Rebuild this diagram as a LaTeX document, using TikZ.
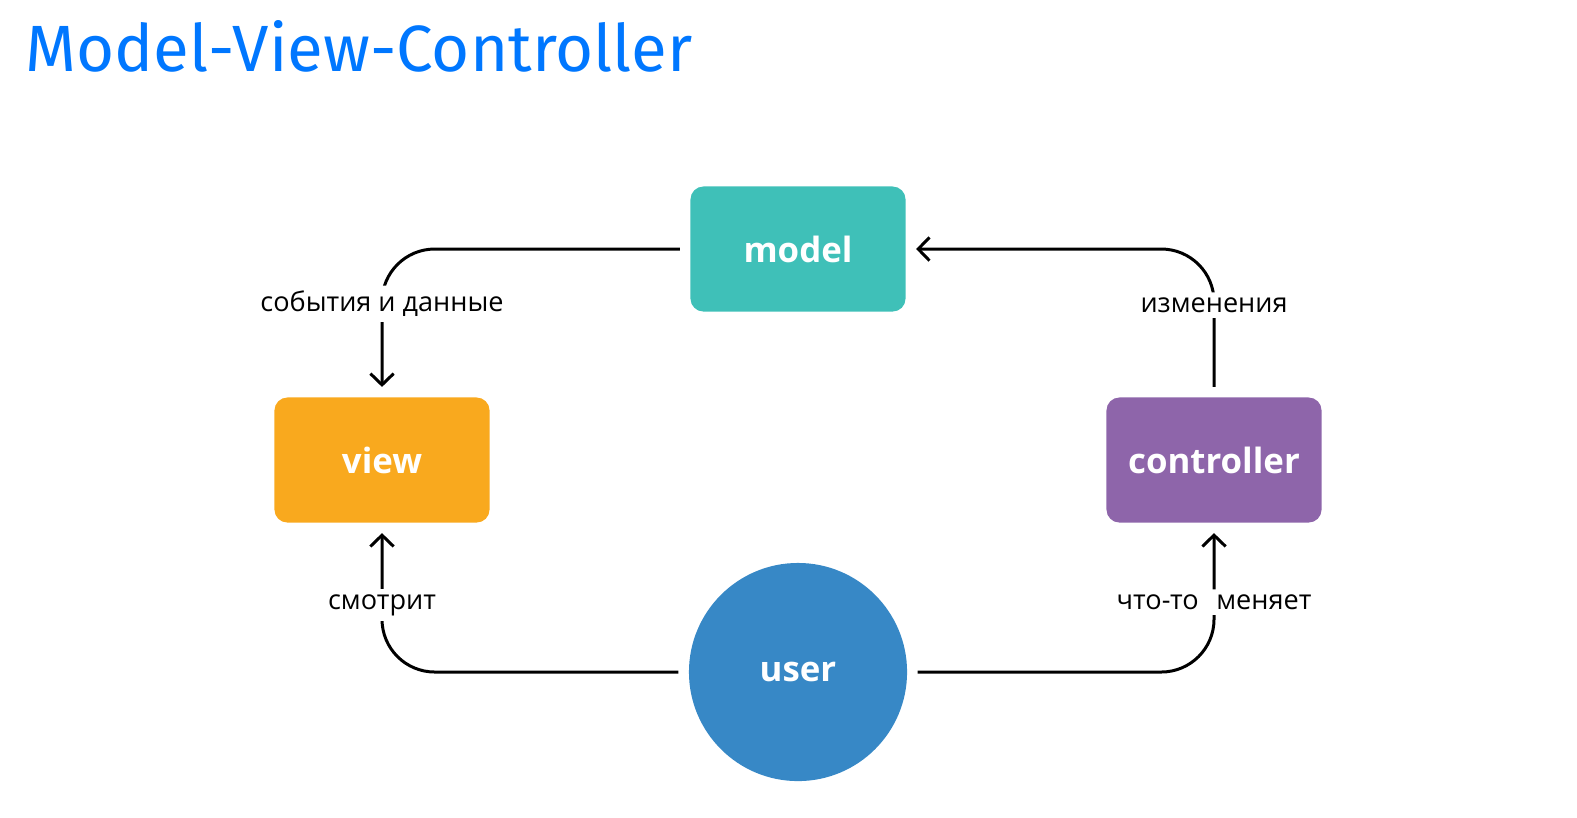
\documentclass[tikz,border=0pt]{standalone}
\usepackage{fontspec}
\setmainfont{Open Sans}
\newfontfamily\titlefont{Fira Sans}
\usetikzlibrary{arrows.meta}

\definecolor{mvctitle}{RGB}{0,119,255}
\definecolor{mvcteal}{RGB}{63,192,184}
\definecolor{mvcorange}{RGB}{249,169,30}
\definecolor{mvcpurple}{RGB}{142,101,170}
\definecolor{mvcblue}{RGB}{55,136,198}

\begin{document}
\begin{tikzpicture}
  [x=0.01cm,y=-0.01cm,
   every node/.style={text=white,font=\fontsize{9.9}{12}\selectfont\bfseries},
   box/.style={rectangle,rounded corners=0.13cm,minimum width=2.15cm,minimum height=1.25cm},
   conn/.style={line width=0.85pt,rounded corners=15pt,shorten <=2.8pt,shorten >=2.8pt},
   fwd/.style={-{Straight Barb[length=3.2pt,width=6.6pt]}},
   bwd/.style={{Straight Barb[length=3.2pt,width=6.6pt]}-},
   lbl/.style={fill=white,text=black,font=\fontsize{7.7}{10}\selectfont,inner sep=1.5pt}]
  \useasboundingbox (0,0) rectangle (1577,817);
  \node[anchor=base west,inner sep=0,text=mvctitle,font=\titlefont\fontsize{18.6}{22}\selectfont] (title) at (25,71) {Model-View-Controller};
  \node[box,fill=mvcteal] (model) at (798,249) {model};
  \node[box,fill=mvcorange] (view) at (382,460) {view};
  \node[box,fill=mvcpurple] (controller) at (1214,460) {controller};
  \node[circle,minimum size=2.18cm,fill=mvcblue] (user) at (798,672) {user};

  \foreach \from/\to/\tip/\txt/\p in {model/view/fwd/{события и данные}/0.685,
      model/controller/bwd/изменения/0.69, user/view/fwd/смотрит/0.725,
      user/controller/fwd/{что-то\hspace{3pt} меняет}/0.735}
    \draw[conn,\tip] (\from) -| (\to) node[lbl,pos=\p] {\txt};

\end{tikzpicture}
\end{document}
